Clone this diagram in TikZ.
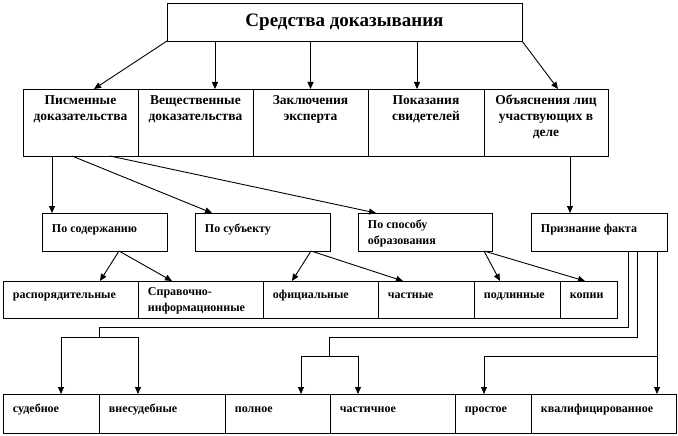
\documentclass[tikz,border=0pt]{standalone}
\usepackage{fontspec}
\setmainfont{Liberation Serif}[BoldFont={Liberation Serif Bold}]
\usetikzlibrary{arrows.meta}

\begin{document}
\begin{tikzpicture}[x=1pt,y=-1pt,line width=0.9pt,
  >={Triangle[length=7pt,width=6pt]},
  cell/.style={draw,rectangle,anchor=north west,inner sep=0pt,outer sep=0pt},
  head/.style={font=\rmfamily\fontsize{13.5}{16}\selectfont\bfseries,align=center,
    inner xsep=0pt,inner ysep=5.8pt,anchor=north,execute at begin node=\strut},
  leaf/.style={font=\rmfamily\fontsize{12}{16}\selectfont\bfseries,align=left,
    inner xsep=9.5pt,inner ysep=#1,anchor=north west,execute at begin node=\strut}]
\useasboundingbox (0,0) rectangle (678,436);

\node[cell,minimum width=355pt,minimum height=38pt,
  font=\rmfamily\fontsize{19}{20}\selectfont\bfseries] (sred) at (167,3) {Средства доказывания};

% second row
\node[cell,minimum width=115pt,minimum height=67pt,
  label={[head]north:{Писменные\\доказательства}}] (pism) at (23,89) {};
\node[cell,minimum width=115pt,minimum height=67pt,
  label={[head]north:{Вещественные\\доказательства}}] (vesh) at (138,89) {};
\node[cell,minimum width=115pt,minimum height=67pt,
  label={[head]north:{Заключения\\эксперта}}] (zakl) at (253,89) {};
\node[cell,minimum width=116pt,minimum height=67pt,
  label={[head]north:{Показания\\свидетелей}}] (pok) at (368,89) {};
\node[cell,minimum width=124pt,minimum height=67pt,
  label={[head]north:{Объяснения лиц\\участвующих в\\деле}}] (obj) at (484,89) {};

% third row
\node[cell,minimum width=125pt,minimum height=38pt,
  label={[leaf=7.8pt]north west:{По содержанию}}] (sod) at (42,213) {};
\node[cell,minimum width=135pt,minimum height=38pt,
  label={[leaf=7.8pt]north west:{По субъекту}}] (subj) at (195,213) {};
\node[cell,minimum width=134pt,minimum height=38pt,
  label={[leaf=6.8pt]north west:{По способу\\образования}}] (sposob) at (358,213) {};
\node[cell,minimum width=136pt,minimum height=38pt,
  label={[leaf=7.8pt]north west:{Признание факта}}] (priz) at (531,213) {};

% fourth row
\node[cell,minimum width=135pt,minimum height=37pt,
  label={[leaf=5.8pt]north west:{распорядительные}}] (rasp) at (3,281) {};
\node[cell,minimum width=125pt,minimum height=37pt,
  label={[leaf=5.8pt]north west:{Справочно-\\информационные}}] (sprav) at (138,281) {};
\node[cell,minimum width=115pt,minimum height=37pt,
  label={[leaf=5.8pt]north west:{официальные}}] (ofic) at (263,281) {};
\node[cell,minimum width=96pt,minimum height=37pt,
  label={[leaf=5.8pt]north west:{частные}}] (chast) at (378,281) {};
\node[cell,minimum width=86pt,minimum height=37pt,
  label={[leaf=5.8pt]north west:{подлинные}}] (podl) at (474,281) {};
\node[cell,minimum width=57pt,minimum height=37pt,
  label={[leaf=5.8pt]north west:{копии}}] (kop) at (560,281) {};

% fifth row
\node[cell,minimum width=96pt,minimum height=39pt,
  label={[leaf=6.8pt]north west:{судебное}}] (sud) at (3,394) {};
\node[cell,minimum width=126pt,minimum height=39pt,
  label={[leaf=6.8pt]north west:{внесудебные}}] (vnesud) at (99,394) {};
\node[cell,minimum width=105pt,minimum height=39pt,
  label={[leaf=6.8pt]north west:{полное}}] (poln) at (225,394) {};
\node[cell,minimum width=125pt,minimum height=39pt,
  label={[leaf=6.8pt]north west:{частичное}}] (chastich) at (330,394) {};
\node[cell,minimum width=76pt,minimum height=39pt,
  label={[leaf=6.8pt]north west:{простое}}] (prost) at (455,394) {};
\node[cell,minimum width=145pt,minimum height=39pt,
  label={[leaf=6.8pt]north west:{квалифицированное}}] (kval) at (531,394) {};

\draw[->] (sred.south west) -- ([xshift=13.5pt]pism.north);
\draw[->] ([xshift=48pt]sred.south west) -- ([xshift=19.5pt]vesh.north);
\draw[->] ([xshift=143.5pt]sred.south west) -- (zakl.north);
\draw[->] ([xshift=250pt]sred.south west) -- ([xshift=-9pt]pok.north);
\draw[->] (sred.south east) -- ([xshift=12pt]obj.north);

\draw[->] ([xshift=29pt]pism.south west) -- ([xshift=10pt]sod.north west);
\draw[->] ([xshift=49pt]pism.south west) -- ([xshift=17pt]subj.north west);
\draw[->] ([xshift=87pt]pism.south west) -- ([xshift=18pt]sposob.north west);
\draw[->] ([xshift=86pt]obj.south west) -- ([xshift=39pt]priz.north west);

\draw[->] ([xshift=77pt]sod.south west) -- ([xshift=97pt]rasp.north west);
\draw[->] ([xshift=77pt]sod.south west) -- ([xshift=34pt]sprav.north west);
\draw[->] ([xshift=116pt]subj.south west) -- ([xshift=29pt]ofic.north west);
\draw[->] ([xshift=116pt]subj.south west) -- ([xshift=25pt]chast.north west);
\draw[->] ([xshift=126pt]sposob.south west) -- ([xshift=26pt]podl.north west);
\draw[->] ([xshift=126pt]sposob.south west) -- ([xshift=25pt]kop.north west);

% elbows from Признание факта
\coordinate (s1) at (99,327);
\coordinate (b1) at (99,337);
\coordinate (s2) at (329,337);
\coordinate (b2) at (329,356);
\coordinate (b3) at (657,356);
\draw ([xshift=97pt]priz.south west) |- (s1) -- (b1);
\draw[->] (b1) -| ([xshift=58pt]sud.north west);
\draw[->] (b1) -| ([xshift=39pt]vnesud.north west);
\draw ([xshift=106pt]priz.south west) |- (s2) -- (b2);
\draw[->] (b2) -| ([xshift=76pt]poln.north west);
\draw[->] (b2) -| ([xshift=28pt]chastich.north west);
\draw[->] ([xshift=126pt]priz.south west) -- ([xshift=126pt]kval.north west);
\draw[->] (b3) -| ([xshift=29pt]prost.north west);
\end{tikzpicture}
\end{document}
